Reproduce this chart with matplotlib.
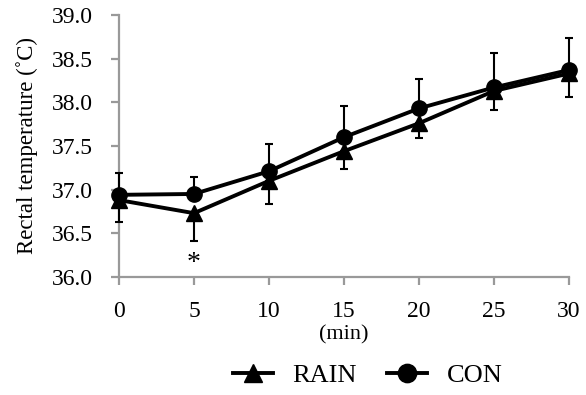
import numpy as np
import matplotlib.pyplot as plt

plt.rcParams['font.family'] = ['Liberation Serif', 'DejaVu Serif']

# data
minutes = [0, 5, 10, 15, 20, 25, 30]
rain = [36.88, 36.73, 37.10, 37.44, 37.76, 38.13, 38.33]
rain_sd = [0.25, 0.32, 0.27, 0.20, 0.17, 0.22, 0.27]
con = [36.94, 36.95, 37.21, 37.60, 37.93, 38.17, 38.37]
con_sd = [0.25, 0.19, 0.31, 0.36, 0.34, 0.39, 0.37]
yticks = [36.0, 36.5, 37.0, 37.5, 38.0, 38.5, 39.0]

fig = plt.figure(figsize=(5.86, 3.95), dpi=100)
ax = fig.add_axes([0.203, 0.299, 0.768, 0.663])

grey = '#999999'

# error bars: RAIN downward, CON upward
ax.errorbar(minutes, rain, yerr=[rain_sd, np.zeros(len(rain_sd))], fmt='none',
            ecolor='black', elinewidth=1.5, capsize=3, capthick=1.5, zorder=3)
ax.errorbar(minutes, con, yerr=[np.zeros(len(con_sd)), con_sd], fmt='none',
            ecolor='black', elinewidth=1.5, capsize=3, capthick=1.5, zorder=3)

ax.plot(minutes, rain, '-^', color='black', lw=2.8, ms=11, label='RAIN', zorder=4)
ax.plot(minutes, con, '-o', color='black', lw=2.8, ms=11, label='CON', zorder=5)

ax.text(5, 36.15, '*', ha='center', va='center', fontsize=20)

ax.set_xlim(0, 30)
ax.set_ylim(36.0, 39.0)
ax.set_xticks(minutes)
ax.set_yticks(yticks)
ax.set_yticklabels(['%.1f' % v for v in yticks])

for s in ['top', 'right']:
    ax.spines[s].set_visible(False)
for s in ['left', 'bottom']:
    ax.spines[s].set_color(grey)
    ax.spines[s].set_linewidth(1.6)
ax.tick_params(colors=grey, width=1.6, length=5.5, labelcolor='black')
ax.tick_params(axis='x', labelsize=17, pad=12)
ax.tick_params(axis='y', labelsize=17, pad=13)
for l in ax.lines:
    l.set_clip_on(False)
for c in ax.collections:
    c.set_clip_on(False)

ax.set_ylabel('Rectal temperature (˚C)', fontsize=16.5, labelpad=10)
ax.set_xlabel('(min)', fontsize=16, labelpad=2)

fig.legend(loc='center', bbox_to_anchor=(0.628, 0.049), ncol=2, frameon=False,
           fontsize=19, handlelength=1.5, columnspacing=1.15, handletextpad=0.75,
           markerscale=1.2)

fig.savefig('out.png', dpi=100)
